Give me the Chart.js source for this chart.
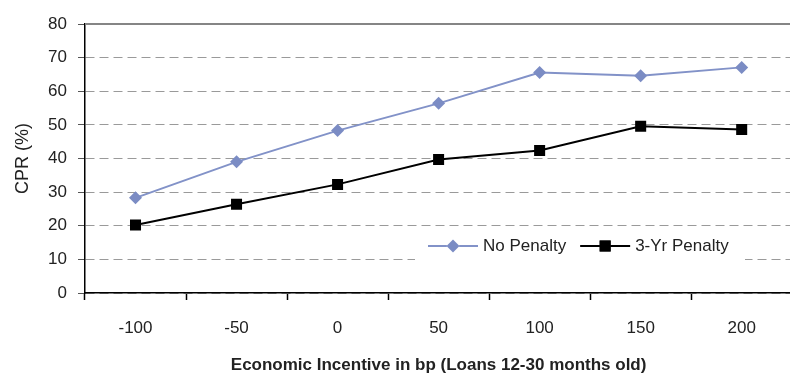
<!DOCTYPE html>
<html>
<head>
<meta charset="utf-8">
<script src="https://cdn.jsdelivr.net/npm/chart.js@4"></script>
<style>
  html, body { margin: 0; padding: 0; background: #fff; overflow: hidden; }
  #wrap { width: 800px; height: 377px; }
</style>
</head>
<body>
<div id="wrap"><canvas id="cprChart" width="800" height="377"></canvas></div>
<script>
const incentives = ['-100', '-50', '0', '50', '100', '150', '200'];
const noPenalty = [28.3, 39.0, 48.3, 56.4, 65.6, 64.6, 67.1];
const threeYrPenalty = [20.2, 26.4, 32.3, 39.7, 42.4, 49.6, 48.6];

const FONT = '"Liberation Sans", Arial, sans-serif';
const TEXT = '#222';

// legend drawn inside the plot, on a white box over the lower gridlines
const innerLegend = {
  id: 'innerLegend',
  afterDatasetsDraw(chart) {
    const ctx = chart.ctx;
    const y = 246;
    ctx.save();
    ctx.fillStyle = '#fff';
    ctx.fillRect(415, 229, 330, 35);
    ctx.font = '17px ' + FONT;
    ctx.textBaseline = 'middle';
    let x = 428;
    chart.data.datasets.forEach(ds => {
      ctx.strokeStyle = ds.borderColor;
      ctx.lineWidth = 2;
      ctx.beginPath();
      ctx.moveTo(x, y);
      ctx.lineTo(x + 50, y);
      ctx.stroke();
      Chart.helpers.drawPoint(ctx, {
        pointStyle: ds.pointStyle,
        radius: ds.pointRadius,
        borderWidth: 0
      }, x + 25, y);
      ctx.fillStyle = ds.pointBackgroundColor;
      ctx.fill();
      ctx.fillStyle = TEXT;
      ctx.fillText(ds.label, x + 55, y);
      x += 55 + ctx.measureText(ds.label).width + 14;
    });
    ctx.restore();
  }
};

// solid frame line along the top of the plot
const topBorder = {
  id: 'topBorder',
  beforeDatasetsDraw(chart) {
    const { ctx, chartArea } = chart;
    ctx.save();
    ctx.strokeStyle = '#858585';
    ctx.lineWidth = 2;
    ctx.beginPath();
    ctx.moveTo(chartArea.left, chartArea.top);
    ctx.lineTo(chartArea.right, chartArea.top);
    ctx.stroke();
    ctx.restore();
  }
};

new Chart(document.getElementById('cprChart'), {
  type: 'line',
  data: {
    labels: incentives,
    datasets: [{
      label: 'No Penalty',
      data: noPenalty,
      borderColor: '#8292c8',
      backgroundColor: '#7b8cc4',
      pointBackgroundColor: '#7b8cc4',
      pointBorderWidth: 0,
      pointStyle: 'rectRot',
      pointRadius: 6.5,
      borderWidth: 2,
      tension: 0
    }, {
      label: '3-Yr Penalty',
      data: threeYrPenalty,
      borderColor: '#000',
      backgroundColor: '#000',
      pointBackgroundColor: '#000',
      pointBorderWidth: 0,
      pointStyle: 'rect',
      pointRadius: 7.8,
      borderWidth: 2,
      tension: 0
    }]
  },
  options: {
    responsive: false,
    animation: false,
    devicePixelRatio: 1,
    layout: { padding: { top: 24, right: 5, left: 0, bottom: 0 } },
    plugins: {
      legend: { display: false },
      tooltip: { enabled: false }
    },
    scales: {
      x: {
        offset: true,
        afterFit: s => { s.height = 84; },
        grid: {
          offset: true,
          drawOnChartArea: false,
          drawTicks: true,
          tickLength: 7,
          tickColor: '#000',
          tickWidth: 1.5
        },
        border: { color: '#000', width: 1.5 },
        ticks: { color: TEXT, font: { family: FONT, size: 17 }, padding: 18 },
        title: {
          display: true,
          text: 'Economic Incentive in bp (Loans 12-30 months old)',
          color: TEXT,
          font: { family: FONT, size: 17, weight: 'bold' },
          padding: { top: 0, bottom: 1 }
        }
      },
      y: {
        min: 0,
        max: 80,
        afterFit: s => { s.width = 85; },
        ticks: { stepSize: 10, color: TEXT, font: { family: FONT, size: 17 }, padding: 11 },
        grid: {
          color: '#9a9a9a',
          lineWidth: 1,
          tickLength: 7,
          tickColor: '#555',
          tickBorderDash: [],
          drawTicks: true
        },
        border: { color: '#000', width: 1.5, dash: [9, 5] },
        title: {
          display: true,
          text: 'CPR (%)',
          color: TEXT,
          font: { family: FONT, size: 18 },
          padding: { top: 12, bottom: 0 }
        }
      }
    }
  },
  plugins: [topBorder, innerLegend]
});
</script>
</body>
</html>
